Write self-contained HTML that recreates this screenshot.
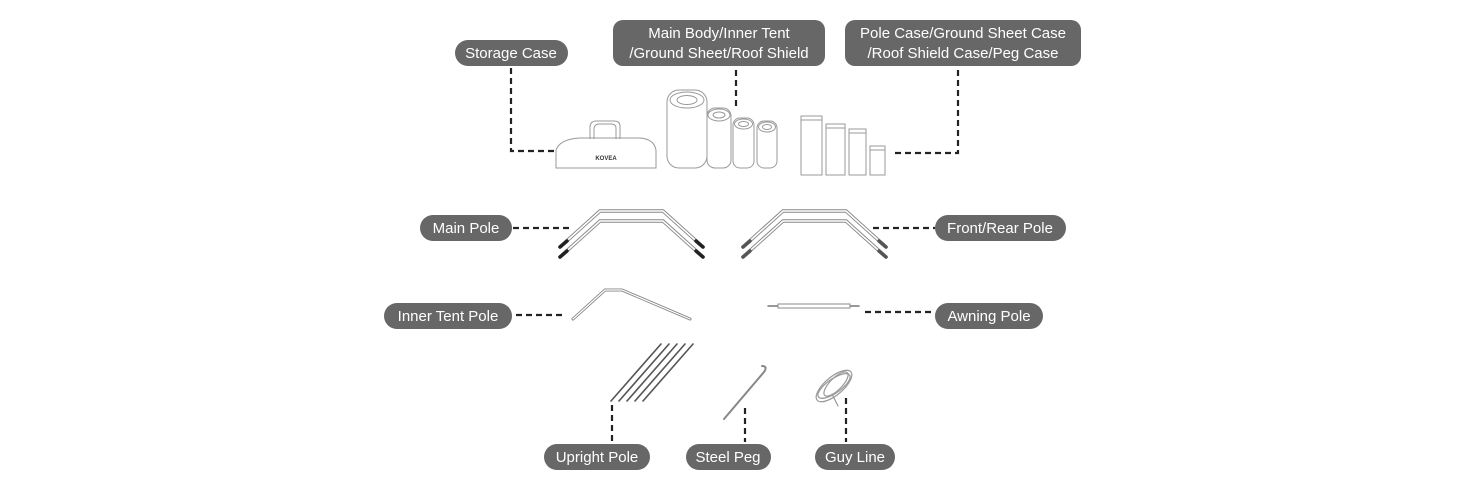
<!DOCTYPE html>
<html><head><meta charset="utf-8"><style>
html,body{margin:0;padding:0;background:#fff;}
svg{display:block}
text{font-family:"Liberation Sans",sans-serif;font-size:15px;fill:#fff;text-anchor:middle}
</style></head><body>
<svg width="1459" height="497" viewBox="0 0 1459 497" xmlns="http://www.w3.org/2000/svg">
<g fill="#676767">
<rect x="455" y="40" width="113" height="26" rx="13"/>
<rect x="613" y="20" width="212" height="46" rx="10"/>
<rect x="845" y="20" width="236" height="46" rx="10"/>
<rect x="420" y="215" width="92" height="26" rx="13"/>
<rect x="935" y="215" width="131" height="26" rx="13"/>
<rect x="384" y="303" width="128" height="26" rx="13"/>
<rect x="935" y="303" width="108" height="26" rx="13"/>
<rect x="544" y="444" width="106" height="26" rx="13"/>
<rect x="686" y="444" width="85" height="26" rx="13"/>
<rect x="815" y="444" width="80" height="26" rx="13"/>
</g>
<text x="511" y="58">Storage Case</text>
<text x="719" y="38">Main Body/Inner Tent</text>
<text x="719" y="58">/Ground Sheet/Roof Shield</text>
<text x="963" y="38">Pole Case/Ground Sheet Case</text>
<text x="963" y="58">/Roof Shield Case/Peg Case</text>
<text x="466" y="233">Main Pole</text>
<text x="1000" y="233">Front/Rear Pole</text>
<text x="448" y="321">Inner Tent Pole</text>
<text x="989" y="321">Awning Pole</text>
<text x="597" y="462">Upright Pole</text>
<text x="728" y="462">Steel Peg</text>
<text x="855" y="462">Guy Line</text>

<g fill="none" stroke="#222" stroke-width="2.2" stroke-dasharray="6,4">
<polyline points="511,68 511,151 558,151"/>
<line x1="736" y1="70" x2="736" y2="108"/>
<polyline points="958,70 958,153 891,153"/>
<line x1="513" y1="228" x2="570" y2="228"/>
<line x1="873" y1="228" x2="935" y2="228"/>
<line x1="516" y1="315" x2="565" y2="315"/>
<line x1="865" y1="312" x2="935" y2="312"/>
<line x1="612" y1="405" x2="612" y2="442"/>
<line x1="745" y1="408" x2="745" y2="442"/>
<line x1="846" y1="398" x2="846" y2="442"/>
</g>

<!-- storage bag -->
<g fill="#fff" stroke="#999" stroke-width="1">
<path d="M556,150 Q560,139 580,138 L640,138 Q654,139 656,150 L656,168 L556,168 Z"/>
<path d="M590,139 L590,126 Q591,121 596,121 L614,121 Q620,121 620,126 L620,139" fill="none"/>
<path d="M594,139 L594,128 Q595,124 599,124 L611,124 Q616,124 616,128 L616,139" fill="none"/>
</g>
<text x="606" y="160" style="font-size:6px;fill:#333;font-weight:bold">KOVEA</text>
<!-- rolls -->
<g fill="#fff" stroke="#999" stroke-width="1">
<rect x="667" y="90" width="40" height="78" rx="12"/><ellipse cx="687" cy="100" rx="17" ry="8"/><ellipse cx="687" cy="100" rx="10" ry="4.5"/>
<rect x="707" y="108" width="24" height="60" rx="8"/><ellipse cx="719" cy="115" rx="11" ry="6"/><ellipse cx="719" cy="115" rx="6" ry="3"/>
<rect x="733" y="118" width="21" height="50" rx="7"/><ellipse cx="743.5" cy="124" rx="9" ry="5"/><ellipse cx="743.5" cy="124" rx="5" ry="2.5"/>
<rect x="757" y="121" width="20" height="47" rx="7"/><ellipse cx="767" cy="127" rx="8.5" ry="5"/><ellipse cx="767" cy="127" rx="4.5" ry="2.5"/>
</g>
<!-- cases -->
<g fill="#fff" stroke="#999" stroke-width="1">
<rect x="801" y="116" width="21" height="59"/><line x1="801" y1="120" x2="822" y2="120"/>
<rect x="826" y="124" width="19" height="51"/><line x1="826" y1="128" x2="845" y2="128"/>
<rect x="849" y="129" width="17" height="46"/><line x1="849" y1="133" x2="866" y2="133"/>
<rect x="870" y="146" width="15" height="29"/><line x1="870" y1="150" x2="885" y2="150"/>
</g>

<!-- main pole -->
<g fill="none" stroke-linecap="round">
<g stroke="#888" stroke-width="3.5"><path d="M560,247 L600,211 L663,211 L703,247"/><path d="M560,257 L600,221 L663,221 L703,257"/></g>
<g stroke="#fff" stroke-width="1.6"><path d="M560,247 L600,211 L663,211 L703,247"/><path d="M560,257 L600,221 L663,221 L703,257"/></g>
<g stroke="#222" stroke-width="3.5"><line x1="560" y1="247" x2="567" y2="241"/><line x1="560" y1="257" x2="567" y2="251"/><line x1="703" y1="247" x2="696" y2="241"/><line x1="703" y1="257" x2="696" y2="251"/></g>
<!-- front/rear pole -->
<g stroke="#888" stroke-width="3.5"><path d="M743,247 L783,211 L846,211 L886,247"/><path d="M743,257 L783,221 L846,221 L886,257"/></g>
<g stroke="#fff" stroke-width="1.6"><path d="M743,247 L783,211 L846,211 L886,247"/><path d="M743,257 L783,221 L846,221 L886,257"/></g>
<g stroke="#555" stroke-width="3.5"><line x1="743" y1="247" x2="750" y2="241"/><line x1="743" y1="257" x2="750" y2="251"/><line x1="886" y1="247" x2="879" y2="241"/><line x1="886" y1="257" x2="879" y2="251"/></g>
<!-- inner tent pole -->
<path d="M573,319 L605,290 L622,290 L690,319" stroke="#888" stroke-width="3"/>
<path d="M573,319 L605,290 L622,290 L690,319" stroke="#fff" stroke-width="1.2"/>
<!-- awning -->
<line x1="768" y1="306" x2="859" y2="306" stroke="#777" stroke-width="1.5"/>
<rect x="778" y="304" width="72" height="4" fill="#fff" stroke="#888" stroke-width="1"/>
<!-- upright poles -->
<g stroke="#555" stroke-width="1.6">
<line x1="611" y1="401" x2="661" y2="344"/><line x1="619" y1="401" x2="669" y2="344"/><line x1="627" y1="401" x2="677" y2="344"/><line x1="635" y1="401" x2="685" y2="344"/><line x1="643" y1="401" x2="693" y2="344"/>
</g>
<!-- steel peg -->
<path d="M724,419 L764,372 Q768,366 762,366" stroke="#888" stroke-width="2"/>
<!-- guy line -->
<g stroke="#999" stroke-width="1.2">
<ellipse cx="834" cy="386" rx="22" ry="9" transform="rotate(-40 834 386)"/>
<ellipse cx="834" cy="386" rx="19" ry="7" transform="rotate(-35 834 386)"/>
<ellipse cx="836" cy="384" rx="16" ry="6" transform="rotate(-45 836 384)"/>
<path d="M832,394 L838,406"/>
</g>
</g>
</svg>
</body></html>
